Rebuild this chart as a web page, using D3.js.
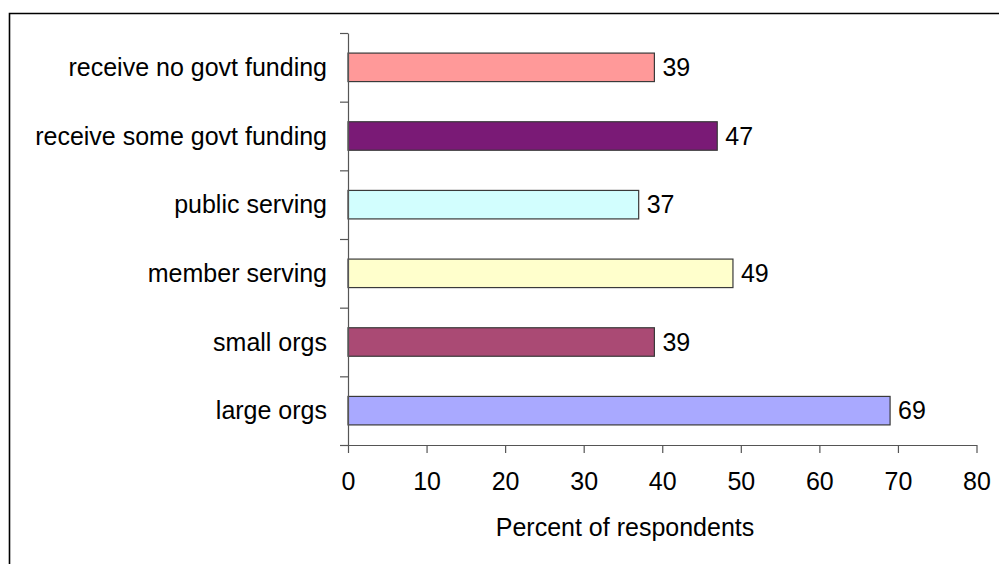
<!DOCTYPE html>
<html>
<head>
<meta charset="utf-8">
<script src="https://cdn.jsdelivr.net/npm/d3@7"></script>
<style>
  html, body { margin: 0; padding: 0; background: #fff; }
  svg { display: block; font-family: "Liberation Sans", Arial, sans-serif; }
</style>
</head>
<body>
<svg id="chart" width="999" height="564"></svg>
<script>
// Survey results: share of respondents by organisation type
const categories = [
  "receive no govt funding",
  "receive some govt funding",
  "public serving",
  "member serving",
  "small orgs",
  "large orgs"
];
const values = [39, 47, 37, 49, 39, 69];
const barColors = ["#ff9999", "#7a1a76", "#d2fefe", "#ffffcc", "#aa4a74", "#a9a9ff"];
const xTicks = [0, 10, 20, 30, 40, 50, 60, 70, 80];
const xTitle = "Percent of respondents";

const svg = d3.select("#chart");
const fontSize = 25;

// frame around the chart area
svg.append("path")
  .attr("d", "M9.5,564 V13.5 H999")
  .attr("fill", "none")
  .attr("stroke", "#000")
  .attr("stroke-width", 1.6);

const x = d3.scaleLinear().domain([0, 80]).range([348, 976.5]);
const y = d3.scaleBand().domain(categories).range([33, 445])
  .paddingInner(0.585).paddingOuter(0.2925);
// category boundaries for the left axis ticks
const yEdges = d3.scaleLinear().domain([0, categories.length]).range([445, 33]);

const data = categories.map((c, i) => ({ c, v: values[i], color: barColors[i] }));

// bars
svg.append("g").selectAll("rect").data(data).join("rect")
  .attr("x", x(0))
  .attr("y", d => y(d.c))
  .attr("width", d => x(d.v) - x(0))
  .attr("height", y.bandwidth())
  .attr("fill", d => d.color)
  .attr("stroke", "#3a3a3a")
  .attr("stroke-width", 1.2);

// x axis
const xAxis = svg.append("g")
  .attr("transform", `translate(0,445)`)
  .call(d3.axisBottom(x).tickValues(xTicks).tickSize(8).tickPadding(19).tickSizeOuter(0));
xAxis.select(".domain").attr("stroke", "#555").attr("stroke-width", 1.2);
xAxis.selectAll(".tick line").attr("stroke", "#555").attr("stroke-width", 1.2);
xAxis.selectAll(".tick text")
  .attr("font-size", fontSize)
  .attr("font-family", "Liberation Sans, Arial, sans-serif")
  .attr("fill", "#000");

// y axis (tick marks only, between categories)
const yAxis = svg.append("g")
  .attr("transform", `translate(348,0)`)
  .call(d3.axisLeft(yEdges).tickValues(d3.range(categories.length + 1)).tickFormat("").tickSize(8).tickSizeOuter(0));
yAxis.select(".domain").attr("stroke", "#555").attr("stroke-width", 1.2);
yAxis.selectAll(".tick line").attr("stroke", "#555").attr("stroke-width", 1.2);

// category labels
svg.append("g").selectAll("text").data(data).join("text")
  .attr("x", 327)
  .attr("y", d => y(d.c) + y.bandwidth() / 2)
  .attr("dy", "0.35em")
  .attr("text-anchor", "end")
  .attr("font-size", fontSize)
  .attr("fill", "#000")
  .text(d => d.c);

// value labels
svg.append("g").selectAll("text").data(data).join("text")
  .attr("x", d => x(d.v) + 8)
  .attr("y", d => y(d.c) + y.bandwidth() / 2)
  .attr("dy", "0.35em")
  .attr("font-size", fontSize)
  .attr("fill", "#000")
  .text(d => d.v);

// axis title
svg.append("text")
  .attr("x", 625)
  .attr("y", 536)
  .attr("text-anchor", "middle")
  .attr("font-size", fontSize)
  .attr("fill", "#000")
  .text(xTitle);
</script>
</body>
</html>
